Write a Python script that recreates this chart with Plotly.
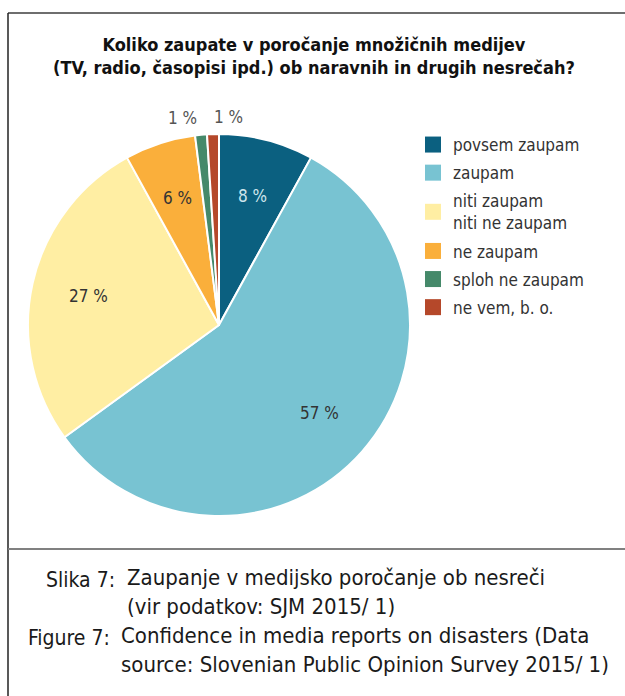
import math
import plotly.graph_objects as go

categories = ["povsem zaupam", "zaupam", "niti zaupam<br>niti ne zaupam",
              "ne zaupam", "sploh ne zaupam", "ne vem, b. o."]
values = [8, 57, 27, 6, 1, 1]
colors = ["#0B6080", "#78C3D2", "#FFEEA3", "#FAAF3B", "#45896A", "#B5482A"]
label_colors = ["#cfe5ec", "#333333", "#333333", "#333333", "#555555", "#555555"]
label_outside = [False, False, False, False, True, True]

title_text = ("<b>Koliko zaupate v poročanje množičnih medijev<br>"
              "(TV, radio, časopisi ipd.) ob naravnih in drugih nesrečah?</b>")
caption_labels = ["Slika 7:", "Figure 7:"]
caption_texts = ["Zaupanje v medijsko poročanje ob nesreči<br>(vir podatkov: SJM 2015/ 1)",
                 "Confidence in media reports on disasters (Data<br>source: Slovenian Public Opinion Survey 2015/ 1)"]

FONT = "Liberation Sans Narrow, DejaVu Sans Condensed, Arial Narrow, sans-serif"
W, H = 625, 696
CX, CY, R = 219, 325, 191


def px(x):
    return x / W


def py(y):
    return 1 - y / H


fig = go.Figure()
fig.add_trace(go.Pie(
    labels=categories, values=values, sort=False, direction="clockwise", rotation=0,
    marker=dict(colors=colors, line=dict(color="white", width=2)),
    textinfo="none", showlegend=False, hoverinfo="label+percent",
    domain=dict(x=[px(CX - R), px(CX + R)], y=[py(CY + R), py(CY - R)]),
))

for i, (c, col) in enumerate(zip(categories, colors)):
    fig.add_trace(go.Scatter(
        x=[None], y=[None], mode="markers", name=c, legendgroup=f"g{i}",
        marker=dict(symbol="square", size=16, color=col, line=dict(width=0)),
    ))

# slice value labels, placed from the slice angles
total = sum(values)
annotations = []
cum = 0
k = 0
for v, outside, lc in zip(values, label_outside, label_colors):
    mid = 2 * math.pi * (cum + v / 2) / total
    cum += v
    if outside:
        rr = R * 1.09
        anchor = ["right", "left"][k % 2]
        k += 1
    else:
        rr = R * 0.7
        anchor = "center"
    annotations.append(dict(
        text=f"{v} %", xref="paper", yref="paper",
        x=px(CX + rr * math.sin(mid)), y=py(CY - rr * math.cos(mid)),
        xanchor=anchor, yanchor="middle", showarrow=False,
        font=dict(family=FONT, size=17, color=lc)))

shapes = [
    dict(type="line", xref="paper", yref="paper", x0=px(8), x1=1, y0=py(13), y1=py(13),
         line=dict(color="#6e6e6e", width=2)),
    dict(type="line", xref="paper", yref="paper", x0=px(8), x1=px(8), y0=py(13), y1=0,
         line=dict(color="#222222", width=1.5)),
    dict(type="line", xref="paper", yref="paper", x0=px(8), x1=1, y0=py(549), y1=py(549),
         line=dict(color="#808080", width=2)),
]

annotations.append(dict(text=title_text, xref="paper", yref="paper", x=px(314), y=py(56),
                        xanchor="center", yanchor="middle", showarrow=False,
                        font=dict(family=FONT, size=18, color="#111111")))
for i, (lab, txt) in enumerate(zip(caption_labels, caption_texts)):
    yc = [592, 650][i]
    annotations.append(dict(text=lab, xref="paper", yref="paper", x=px([117, 112][i]), y=py(yc),
                            xanchor="right", yanchor="middle", align="right", showarrow=False,
                            yshift=12, font=dict(family=FONT, size=21, color="#1a1a1a")))
    annotations.append(dict(text=txt, xref="paper", yref="paper", x=px([125, 119][i]), y=py(yc),
                            xanchor="left", yanchor="middle", align="left", showarrow=False,
                            font=dict(family=FONT, size=22, color="#1a1a1a")))

fig.update_layout(
    width=W, height=H, margin=dict(l=0, r=0, t=0, b=0),
    paper_bgcolor="white", plot_bgcolor="white",
    xaxis=dict(visible=False), yaxis=dict(visible=False),
    shapes=shapes, annotations=annotations,
    legend=dict(x=px(413), y=py(127), xanchor="left", yanchor="top",
                font=dict(family=FONT, size=17, color="#333333"),
                tracegroupgap=3, traceorder="grouped", bgcolor="rgba(0,0,0,0)"),
)

fig.write_html("out.html", config={"displayModeBar": False},
               post_script="document.body.style.margin='0';")
